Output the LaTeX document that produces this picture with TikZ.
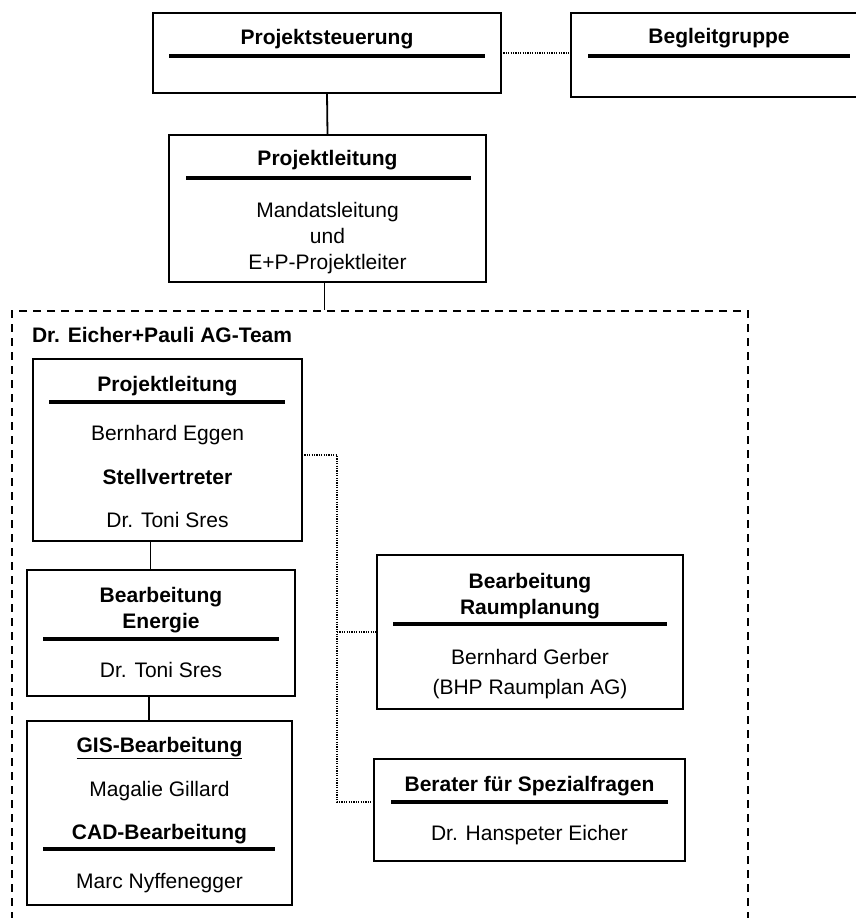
\documentclass[tikz,border=0pt]{standalone}
\usepackage{fontspec}
\setmainfont{Liberation Sans}
\begin{document}
\begin{tikzpicture}[x=1pt,y=-1pt,
  box/.style={draw=black,line width=1.8pt,rectangle,inner sep=0pt,outer sep=0pt},
  txt/.style={inner sep=0pt,outer sep=0pt,anchor=center,yshift=-1.5pt,font=\fontsize{21}{26}\selectfont,text height=15pt,text depth=4pt},
  ttl/.style={txt,font=\fontsize{21}{26}\selectfont\bfseries},
  rulebar/.style={line width=4pt},
  conn/.style={line width=1.8pt},
  dotconn/.style={line width=1.3pt,dash pattern=on 1.2pt off 1.2pt},
  frameline/.style={draw=black,line width=1.6pt,dash pattern=on 8pt off 6pt,rectangle,inner sep=0pt}
]
\useasboundingbox (0,0) rectangle (855,918);

% top boxes
\node[box,minimum width=348pt,minimum height=80pt] (ps) at (327,53) {};
\node[ttl] (pst) at (327,37) {Projektsteuerung};
\draw[rulebar] (169,56) -- (485,56);

\node[box,minimum width=296pt,minimum height=84pt] (bg) at (719,55) {};
\node[ttl] (bgt) at (719,36) {Begleitgruppe};
\draw[rulebar] (588,56) -- (850,56);

\node[box,minimum width=317pt,minimum height=147pt] (pl) at (327.5,208.5) {};
\node[ttl] (plt) at (327.5,158) {Projektleitung};
\draw[rulebar] (186,178) -- (471,178);
\node[txt] (pl1) at (327.5,210) {Mandatsleitung};
\node[txt] (pl2) at (327.5,236) {und};
\node[txt] (pl3) at (327.5,262) {E+P-Projektleiter};

% frame
\node[frameline,minimum width=736pt,minimum height=629pt] (frame) at (380,625.5) {};
\node[ttl,anchor=west] (ft) at (32,335) {Dr. Eicher+Pauli AG-Team};

% inner project lead
\node[box,minimum width=269pt,minimum height=182pt] (ipl) at (167.5,450) {};
\node[ttl] (iplt) at (167.5,384) {Projektleitung};
\draw[rulebar] (49,402) -- (285,402);
\node[txt] (ipl1) at (167.5,433) {Bernhard Eggen};
\node[ttl] (ipl2) at (167.5,477) {Stellvertreter};
\node[txt] (ipl3) at (167.5,520) {Dr. Toni Sres};

% Energie
\node[box,minimum width=268pt,minimum height=126pt] (en) at (161,633) {};
\node[ttl] (ent1) at (161,595) {Bearbeitung};
\node[ttl] (ent2) at (161,621) {Energie};
\draw[rulebar] (43,639) -- (279,639);
\node[txt] (en1) at (161,670) {Dr. Toni Sres};

% GIS / CAD
\node[box,minimum width=265pt,minimum height=184pt] (gis) at (159.5,813) {};
\node[ttl] (gist) at (159.5,745) {\underline{GIS-Bearbeitung}};
\node[txt] (gis1) at (159.5,789) {Magalie Gillard};
\node[ttl] (cadt) at (159.5,832) {CAD-Bearbeitung};
\draw[rulebar] (43,849) -- (275,849);
\node[txt] (cad1) at (159.5,881) {Marc Nyffenegger};

% Raumplanung
\node[box,minimum width=306pt,minimum height=154pt] (rp) at (530,632) {};
\node[ttl] (rpt1) at (530,581) {Bearbeitung};
\node[ttl] (rpt2) at (530,607) {Raumplanung};
\draw[rulebar] (393,624) -- (667,624);
\node[txt] (rp1) at (530,657) {Bernhard Gerber};
\node[txt] (rp2) at (530,687) {(BHP Raumplan AG)};

% Berater
\node[box,minimum width=311pt,minimum height=102pt] (ber) at (529.5,810) {};
\node[ttl] (bert) at (529.5,784) {Berater für Spezialfragen};
\draw[rulebar] (391,802) -- (668,802);
\node[txt] (ber1) at (529.5,833) {Dr. Hanspeter Eicher};

% connectors
\draw[dotconn] (ps.east) -- (ps.east -| bg.west);
\draw[conn] (ps.south) -- (pl.north);
\draw[conn] ([xshift=-3pt]pl.south) -- ([xshift=-3pt]pl.south |- frame.north);
\draw[conn] ([xshift=-17pt]ipl.south) -- ([xshift=-17pt]ipl.south |- en.north);
\draw[conn] ([xshift=-12pt]en.south) -- ([xshift=-12pt]en.south |- gis.north);

\coordinate (bus) at (337,455);
\coordinate (berin) at ([yshift=8pt]ber.west);
\draw[dotconn] (ipl.east |- bus) -- (bus) -- (bus |- berin) -- (berin);
\draw[dotconn] (bus |- rp.west) -- (rp.west);
\end{tikzpicture}
\end{document}
